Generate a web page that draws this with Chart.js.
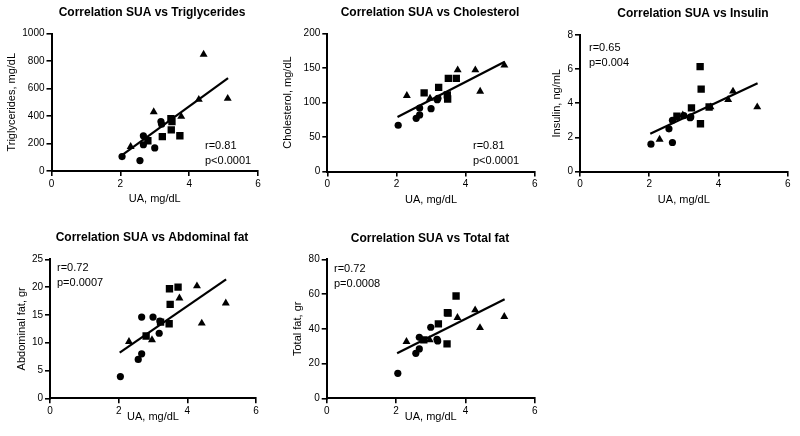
<!DOCTYPE html>
<html>
<head>
<meta charset="utf-8">
<script src="https://cdn.jsdelivr.net/npm/chart.js@4.4.1/dist/chart.umd.min.js"></script>
<style>
  body { margin: 0; background: #fff; }
  #wrap { position: relative; width: 800px; height: 436px; overflow: hidden; }
  #wrap canvas { position: absolute; }
</style>
</head>
<body>
<div id="wrap">
  <canvas id="c1" width="270" height="215" style="left:0;top:0"></canvas>
  <canvas id="c2" width="270" height="215" style="left:270px;top:0"></canvas>
  <canvas id="c3" width="260" height="215" style="left:540px;top:0"></canvas>
  <canvas id="c4" width="270" height="221" style="left:0;top:215px"></canvas>
  <canvas id="c5" width="270" height="221" style="left:270px;top:215px"></canvas>
</div>
<script>
// uric acid (UA, mg/dL) for each group of subjects
var circleUA   = [2.05, 2.57, 2.67, 2.67, 3.0, 3.18, 3.2];
var squareUA   = [2.8, 3.22, 3.47, 3.48, 3.5, 3.73];
var triangleUA = [2.3, 2.97, 3.77, 4.28, 4.42, 5.12];

// triglycerides, mg/dL
var trigCircle   = [105, 76, 256, 191, 168, 360, 340];
var trigSquare   = [220, 250, 381, 299, 360, 256];
var trigTriangle = [177, 430, 396, 520, 848, 527];

// cholesterol, mg/dL
var cholCircle   = [67, 77, 82, 92, 91, 104, 106];
var cholSquare   = [114, 122, 111, 105, 135, 135];
var cholTriangle = [110, 106, 147, 147, 116, 154];

// insulin, ng/mL
var insCircle   = [1.6, 2.5, 1.7, 3.0, 3.28, 3.15, 3.2];
var insSquare   = [3.24, 3.73, 6.15, 2.8, 4.83, 3.78];
var insTriangle = [1.88, 3.3, 3.78, 4.21, 4.7, 3.78];

// abdominal fat, gr
var abdCircle   = [3.9, 7.0, 8.0, 14.6, 14.6, 11.7, 13.9];
var abdSquare   = [11.2, 13.7, 13.4, 19.7, 16.9, 20.0];
var abdTriangle = [10.2, 10.5, 18.0, 20.2, 13.5, 17.1];

// total fat, gr
var totCircle   = [14.4, 25.9, 28.4, 35.1, 40.9, 34.0, 33.0];
var totSquare   = [33.6, 42.8, 31.3, 49.3, 49.0, 58.9];
var totTriangle = [32.6, 33.6, 46.4, 50.8, 40.6, 47.0];

// regression line ends
var fitUA   = [2.03, 5.13];
var fitTrig = [112, 676];
var fitChol = [79, 159];
var fitIns  = [2.21, 5.17];
var fitAbd  = [8.2, 21.4];
var fitTot  = [25.9, 57.0];

var xTicks = [0, 2, 4, 6];

function pts(xs, ys) {
    var out = [];
    for (var i = 0; i < xs.length; i++) out.push({x: xs[i], y: ys[i]});
    return out;
}

// draws panel title and the r / p note
var panelText = {
    id: 'panelText',
    afterDraw: function(chart) {
        var o = chart.options.plugins.panelText;
        var ctx = chart.ctx;
        ctx.save();
        ctx.fillStyle = '#000';
        ctx.textBaseline = 'middle';
        ctx.textAlign = 'center';
        ctx.font = 'bold 12px "Liberation Sans", Arial, sans-serif';
        ctx.fillText(o.title, o.titleX, o.titleY);
        ctx.textAlign = 'left';
        ctx.font = '11px "Liberation Sans", Arial, sans-serif';
        for (var i = 0; i < o.notes.length; i++) {
            ctx.fillText(o.notes[i], o.notesX, o.notesY + i * 15);
        }
        ctx.restore();
    }
};

function makePanel(id, p) {
    var cv = document.getElementById(id);
    var w = cv.width, h = cv.height;
    var padLeft = p.yTitleX - 6.6;
    var padBottom = h - p.xTitleY - 6.6;
    var yWidth = p.area[0] - padLeft;
    var xHeight = h - padBottom - p.area[3];
    var tickFont = {family: '"Liberation Sans", Arial, sans-serif', size: 10};
    var titleFont = {family: '"Liberation Sans", Arial, sans-serif', size: 11};
    var plain = function(v) { return String(v); };

    new Chart(cv, {
        type: 'scatter',
        data: {
            datasets: [{
                data: pts(circleUA, p.circle),
                pointStyle: 'circle', pointRadius: 3.6,
                backgroundColor: '#000', borderColor: '#000', borderWidth: 0
            }, {
                data: pts(squareUA, p.square),
                pointStyle: 'rect', pointRadius: 5.2,
                backgroundColor: '#000', borderColor: '#000', borderWidth: 0
            }, {
                data: pts(triangleUA, p.triangle),
                pointStyle: 'triangle', pointRadius: 4.6,
                backgroundColor: '#000', borderColor: '#000', borderWidth: 0
            }, {
                data: pts(fitUA, p.fit),
                showLine: true, pointRadius: 0,
                borderColor: '#000', borderWidth: 2.2
            }]
        },
        options: {
            responsive: false,
            animation: false,
            layout: {
                padding: {left: padLeft, right: w - p.area[1], top: p.area[2], bottom: padBottom}
            },
            plugins: {
                legend: {display: false},
                tooltip: {enabled: false},
                panelText: {
                    title: p.title, titleX: p.titleX, titleY: p.titleY,
                    notes: p.notes, notesX: p.notesX, notesY: p.notesY
                }
            },
            scales: {
                x: {
                    min: 0, max: 6,
                    afterBuildTicks: function(scale) {
                        scale.ticks = xTicks.map(function(v) { return {value: v}; });
                    },
                    afterFit: function(scale) { scale.height = xHeight; },
                    grid: {drawOnChartArea: false, drawTicks: true, tickLength: 5, color: '#000', lineWidth: 1.6},
                    border: {display: true, color: '#000', width: 2},
                    ticks: {color: '#000', font: tickFont, padding: 2, maxRotation: 0, callback: plain},
                    title: {display: true, text: 'UA, mg/dL', color: '#000', font: titleFont, padding: 0}
                },
                y: {
                    min: 0, max: p.yMax,
                    afterBuildTicks: function(scale) {
                        var t = [];
                        for (var v = 0; v <= p.yMax; v += p.yStep) t.push({value: v});
                        scale.ticks = t;
                    },
                    afterFit: function(scale) { scale.width = yWidth; },
                    grid: {drawOnChartArea: false, drawTicks: true, tickLength: 5, color: '#000', lineWidth: 1.6},
                    border: {display: true, color: '#000', width: 2},
                    ticks: {color: '#000', font: tickFont, padding: 2, callback: plain},
                    title: {display: true, text: p.yLabel, color: '#000', font: titleFont, padding: 0}
                }
            }
        },
        plugins: [panelText]
    });
}

makePanel('c1', {
    circle: trigCircle, square: trigSquare, triangle: trigTriangle, fit: fitTrig,
    yMax: 1000, yStep: 200, yLabel: 'Triglycerides, mg/dL',
    area: [51.5, 258, 33.5, 171], yTitleX: 12, xTitleY: 199,
    title: 'Correlation SUA vs Triglycerides', titleX: 152, titleY: 13,
    notes: ['r=0.81', 'p<0.0001'], notesX: 205, notesY: 146
});
makePanel('c2', {
    circle: cholCircle, square: cholSquare, triangle: cholTriangle, fit: fitChol,
    yMax: 200, yStep: 50, yLabel: 'Cholesterol, mg/dL',
    area: [57.3, 265, 33.5, 171.5], yTitleX: 18, xTitleY: 200,
    title: 'Correlation SUA vs Cholesterol', titleX: 160, titleY: 13,
    notes: ['r=0.81', 'p<0.0001'], notesX: 203, notesY: 146
});
makePanel('c3', {
    circle: insCircle, square: insSquare, triangle: insTriangle, fit: fitIns,
    yMax: 8, yStep: 2, yLabel: 'Insulin, ng/mL',
    area: [40, 247.7, 35, 171.5], yTitleX: 17, xTitleY: 200,
    title: 'Correlation SUA vs Insulin', titleX: 153, titleY: 14,
    notes: ['r=0.65', 'p=0.004'], notesX: 49, notesY: 48
});
makePanel('c4', {
    circle: abdCircle, square: abdSquare, triangle: abdTriangle, fit: fitAbd,
    yMax: 25, yStep: 5, yLabel: 'Abdominal fat, gr',
    area: [50, 256, 44.3, 183.3], yTitleX: 22, xTitleY: 202,
    title: 'Correlation SUA vs Abdominal fat', titleX: 152, titleY: 23,
    notes: ['r=0.72', 'p=0.0007'], notesX: 57, notesY: 53
});
makePanel('c5', {
    circle: totCircle, square: totSquare, triangle: totTriangle, fit: fitTot,
    yMax: 80, yStep: 20, yLabel: 'Total fat, gr',
    area: [56.7, 265, 44.3, 183.3], yTitleX: 28, xTitleY: 202,
    title: 'Correlation SUA vs Total fat', titleX: 160, titleY: 24,
    notes: ['r=0.72', 'p=0.0008'], notesX: 64, notesY: 54
});
</script>
</body>
</html>
